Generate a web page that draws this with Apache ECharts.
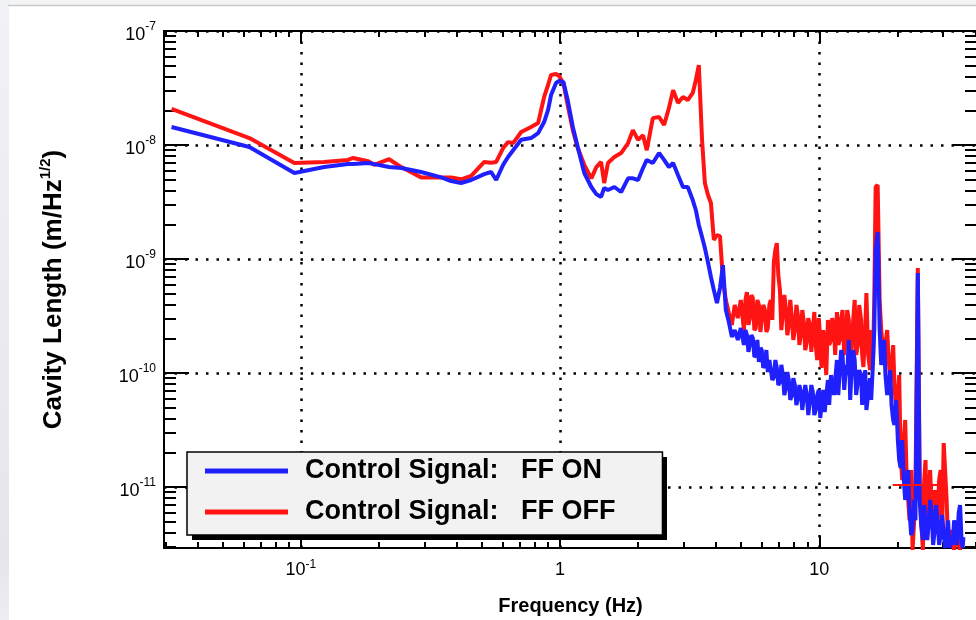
<!DOCTYPE html>
<html>
<head>
<meta charset="utf-8">
<style>
html, body { margin: 0; padding: 0; background: #fff; }
#main { width: 976px; height: 620px; }
</style>
<script src="https://cdn.jsdelivr.net/npm/echarts@6/dist/echarts.min.js"></script>
</head>
<body>
<div id="main"></div>
<script>
var FONT = '"Liberation Sans", Arial, Helvetica, sans-serif';

// frequency (Hz), shared by both traces
var freq = [
    0.0317, 0.0633, 0.0944, 0.123, 0.152, 0.159, 0.182, 0.192, 0.219, 0.244,
    0.291, 0.348, 0.380, 0.415, 0.454, 0.510, 0.542, 0.567, 0.603, 0.630,
    0.659, 0.708, 0.773, 0.823, 0.868, 0.899, 0.923, 0.965, 0.991,
    1.03, 1.07, 1.12, 1.17, 1.24, 1.32, 1.38, 1.44, 1.48, 1.53,
    1.62, 1.72, 1.83, 1.91, 2.00, 2.09, 2.16, 2.28, 2.41, 2.52,
    2.63, 2.73, 2.85, 2.98, 3.11, 3.25, 3.34, 3.43,
    3.53, 3.62, 3.72, 3.82, 3.92, 4.03, 4.14, 4.25, 4.36, 4.48,
    4.60, 4.72, 4.85, 4.98,
    5.12, 5.19, 5.26, 5.33, 5.40, 5.47, 5.54, 5.62, 5.69, 5.77,
    5.85, 5.93, 6.00, 6.08, 6.17, 6.25, 6.33, 6.42, 6.50, 6.59,
    6.68, 6.77, 6.86, 6.95, 7.05, 7.14, 7.24, 7.33, 7.43, 7.53,
    7.63, 7.73, 7.84, 7.94, 8.05, 8.16, 8.27, 8.38, 8.49, 8.60,
    8.72, 8.83, 8.95, 9.07, 9.19, 9.32, 9.44, 9.57, 9.69, 9.82,
    9.96, 10.09, 10.2, 10.36, 10.5, 10.64, 10.8, 10.92, 11.1, 11.22,
    11.4, 11.52, 11.7, 11.84, 12.0, 12.15, 12.3, 12.48, 12.7, 12.82,
    13.0, 13.16, 13.3, 13.52, 13.7, 13.88, 14.1, 14.26, 14.5, 14.64,
    14.8, 15.04, 15.2, 15.44, 15.7, 15.86, 16.1, 16.30,
    16.5, 16.8,
    17.1, 17.34, 17.6, 17.80, 18.0, 18.28, 18.5, 18.78, 19.0, 19.28,
    19.5, 19.80, 20.1, 20.34, 20.6, 20.89, 21.2, 21.45, 21.7, 22.03,
    22.3, 22.62, 22.9, 23.24,
    23.5, 24.0,
    24.4, 24.73, 25.1, 25.40, 25.7, 26.08, 26.4, 26.77, 27.1, 27.49,
    27.9, 28.24, 28.6, 29.00, 29.4, 29.78, 30.2, 30.58, 31.0, 31.40,
    31.8, 32.26, 32.7, 33.13, 33.6, 34.02, 34.5, 34.93, 35.4, 35.72,
    36.0
];

// Control Signal: FF ON (m/Hz^1/2)
var ampOn = [
    1.44e-8, 9.6e-9, 5.68e-9, 6.41e-9, 6.8e-9, 6.8e-9, 6.95e-9, 6.8e-9, 6.41e-9, 6.28e-9,
    5.8e-9, 5.2e-9, 4.83e-9, 4.64e-9, 4.93e-9, 5.56e-9, 5.8e-9, 4.93e-9, 6.7e-9, 7.84e-9,
    9.0e-9, 1.11e-8, 1.15e-8, 1.27e-8, 1.59e-8, 2.03e-8, 2.74e-8, 3.5e-8, 3.64e-8,
    3.57e-8, 2.48e-8, 1.44e-8, 9.6e-9, 5.68e-9, 4.28e-9, 3.71e-9, 3.5e-9, 4.2e-9, 4.03e-9,
    4.28e-9, 3.87e-9, 5.1e-9, 5.1e-9, 4.93e-9, 6.28e-9, 7.4e-9, 6.95e-9, 8.5e-9, 7.4e-9,
    6.41e-9, 6.95e-9, 5.45e-9, 4.28e-9, 4.28e-9, 3.29e-9, 2.69e-9, 1.99e-9,
    1.56e-9, 1.25e-9, 9.4e-10, 6.95e-10, 5.35e-10, 4.11e-10, 5.56e-10, 8.85e-10, 3.57e-10, 2.8e-10,
    2.07e-10, 2.38e-10, 1.95e-10, 2.48e-10,
    1.76e-10, 2.38e-10, 2.15e-10, 1.53e-10, 1.59e-10, 2.15e-10, 2.03e-10, 1.38e-10, 1.44e-10, 1.95e-10,
    1.25e-10, 1.66e-10, 1.59e-10, 1.11e-10, 1.18e-10, 1.59e-10, 1.02e-10, 1.30e-10, 1.30e-10, 8.67e-11,
    9.22e-11, 1.30e-10, 1.11e-10, 7.84e-11, 8.33e-11, 1.18e-10, 9.6e-11, 6.41e-11, 7.38e-11, 1.02e-10,
    8.67e-11, 5.8e-11, 6.41e-11, 9.0e-11, 7.84e-11, 5.24e-11, 6.03e-11, 7.84e-11, 6.81e-11, 4.74e-11,
    4.93e-11, 7.84e-11, 6.41e-11, 4.28e-11, 5.56e-11, 7.84e-11, 6.81e-11, 4.28e-11, 4.74e-11, 6.41e-11,
    7.1e-11, 4.03e-11, 5.24e-11, 7.1e-11, 4.55e-11, 6.41e-11, 8.67e-11, 5.24e-11, 9.6e-11, 7.84e-11,
    6.41e-11, 8.67e-11, 1.30e-10, 6.41e-11, 1.06e-10, 1.59e-10, 1.44e-10, 7.1e-11, 1.18e-10, 9.6e-11,
    1.95e-10, 5.8e-11, 9.6e-11, 1.59e-10, 1.30e-10, 6.41e-11, 6.67e-11, 1.06e-10, 9.6e-11, 5.24e-11,
    7.84e-11, 1.06e-10, 4.74e-11, 6.41e-11, 9.0e-11, 5.8e-11, 1.18e-10, 2.38e-10,
    1.2e-9, 1.72e-9,
    2.38e-10, 1.18e-10, 1.44e-10, 1.95e-10, 9.6e-11, 6.41e-11, 7.53e-11, 1.06e-10, 5.24e-11, 3.87e-11,
    3.5e-11, 5.8e-11, 2.58e-11, 1.72e-11, 1.47e-11, 2.58e-11, 1.15e-11, 7.7e-12, 7.7e-12, 1.41e-11,
    6.28e-12, 3.79e-12, 4.2e-12, 7.7e-12,
    5.1e-12, 7.53e-10,
    7.7e-12, 4.64e-12, 3.43e-12, 6.95e-12, 5.1e-12, 3.43e-12, 4.64e-12, 7.7e-12, 6.28e-12, 3.1e-12,
    4.2e-12, 6.95e-12, 5.1e-12, 3.1e-12, 3.79e-12, 5.68e-12, 3.95e-12, 2.92e-12, 3.43e-12, 5.1e-12,
    2.92e-12, 3.43e-12, 3.1e-12, 5.1e-12, 4.2e-12, 3.1e-12, 5.91e-12, 6.95e-12, 3.43e-12, 2.92e-12,
    3.64e-12
];

// Control Signal: FF OFF (m/Hz^1/2)
var ampOff = [
    2.07e-8, 1.15e-8, 6.95e-9, 7.1e-9, 7.4e-9, 7.7e-9, 7.2e-9, 6.7e-9, 7.5e-9, 6.4e-9,
    5.2e-9, 5.2e-9, 5.2e-9, 5.0e-9, 5.35e-9, 7.1e-9, 7.0e-9, 7.1e-9, 9.4e-9, 1.06e-8,
    1.04e-8, 1.30e-8, 1.44e-8, 1.56e-8, 2.64e-8, 3.36e-8, 4.11e-8, 4.2e-8, 4.03e-8,
    3.5e-8, 2.24e-8, 1.35e-8, 9.4e-9, 6.7e-9, 5.1e-9, 6.4e-9, 7.1e-9, 4.64e-9, 6.95e-9,
    7.84e-9, 8.5e-9, 1.04e-8, 1.35e-8, 1.11e-8, 1.22e-8, 9.0e-9, 1.72e-8, 1.76e-8, 1.50e-8,
    2.11e-8, 3.03e-8, 2.34e-8, 2.64e-8, 2.48e-8, 2.86e-8, 3.7e-8, 5.03e-8,
    1.11e-8, 4.64e-9, 3.64e-9, 3.1e-9, 1.47e-9, 1.62e-9, 1.59e-9, 6.54e-10, 4.37e-10, 3.36e-10,
    2.64e-10, 3.95e-10, 3.03e-10, 4.37e-10,
    2.38e-10, 4.37e-10, 5.13e-10, 2.64e-10, 3.03e-10, 4.83e-10, 4.55e-10, 2.38e-10, 2.48e-10, 4.37e-10,
    3.95e-10, 2.29e-10, 2.38e-10, 3.95e-10, 3.57e-10, 2.29e-10, 2.48e-10, 3.95e-10, 4.37e-10, 2.92e-10,
    9.4e-10, 1.2e-9, 1.38e-9, 7.23e-10, 5.35e-10, 2.38e-10, 3.43e-10, 4.83e-10, 3.71e-10, 2.15e-10,
    2.64e-10, 4.37e-10, 3.03e-10, 1.95e-10, 2.38e-10, 3.95e-10, 3.22e-10, 1.76e-10, 2.15e-10, 3.57e-10,
    2.8e-10, 1.59e-10, 1.87e-10, 3.03e-10, 2.64e-10, 1.53e-10, 2.38e-10, 3.43e-10, 1.76e-10, 1.30e-10,
    3.03e-10, 1.95e-10, 1.11e-10, 2.38e-10, 1.59e-10, 9.6e-11, 2.92e-10, 1.76e-10, 1.95e-10, 3.03e-10,
    2.38e-10, 1.44e-10, 3.43e-10, 1.76e-10, 1.95e-10, 3.03e-10, 3.57e-10, 1.44e-10, 2.15e-10, 3.57e-10,
    2.92e-10, 1.25e-10, 1.44e-10, 2.92e-10, 4.37e-10, 1.44e-10, 1.76e-10, 3.95e-10, 2.92e-10, 1.44e-10,
    1.13e-10, 2.38e-10, 5.03e-10, 1.44e-10, 1.06e-10, 2.38e-10, 1.18e-10, 4.37e-10,
    4.28e-9, 4.46e-9,
    4.37e-10, 2.38e-10, 1.69e-10, 1.18e-10, 1.76e-10, 2.38e-10, 1.38e-10, 8.67e-11, 1.06e-10, 1.76e-10,
    7.84e-11, 4.74e-11, 6.41e-11, 9.6e-11, 1.91e-11, 1.15e-11, 2.58e-11, 3.87e-11, 1.41e-11, 7.7e-12,
    5.1e-12, 1.41e-11, 2.8e-12, 5.1e-12,
    9.4e-12, 8.33e-10,
    1.15e-11, 5.1e-12, 2.8e-12, 1.15e-11, 1.72e-11, 3.43e-12, 7.7e-12, 1.41e-11, 6.95e-12, 4.2e-12,
    9.4e-12, 7.7e-12, 5.1e-12, 1.15e-11, 1.41e-11, 4.2e-12, 2.43e-11, 1.41e-11, 7.7e-12, 3.1e-12,
    3.43e-12, 4.2e-12, 3.1e-12, 2.8e-12, 3.43e-12, 3.79e-12, 3.1e-12, 2.8e-12, 3.43e-12, 3.57e-12,
    3.1e-12
];

// red cross drawn on the FF OFF trace near 24 Hz
var crossFreq = [19.2, 28.9, 24.0];
var crossAmp = [1.04e-11, 2.34e-11, 2.5e-12];

var xRange = [0.02965, 40.6];
var yRange = [2.917e-12, 1e-7];
var xTicks = [0.1, 1, 10];
var yTicks = [1e-11, 1e-10, 1e-9, 1e-8, 1e-7];

var NAME_ON = 'Control Signal:   FF ON';
var NAME_OFF = 'Control Signal:   FF OFF';

function lg(v) { return Math.log10(v); }

function minorTicks(range) {
    var out = [];
    for (var e = -13; e <= 2; e++) {
        for (var k = 2; k <= 9; k++) {
            var v = k * Math.pow(10, e);
            if (v > range[0] && v < range[1]) out.push(lg(v));
        }
    }
    return out;
}

var xMajor = xTicks.map(lg);
var yMajor = yTicks.map(lg);
var xMinor = minorTicks(xRange);
var yMinor = minorTicks(yRange);

function toXY(fs, as) {
    return fs.map(function (f, i) { return [lg(f), lg(as[i])]; });
}

function fmtX(v) {
    var p = Math.round(v);
    if (p === 0) return '{b|1}';
    if (p === 1) return '{b|10}';
    return '{b|10}{s|' + p + '}';
}
function fmtY(v) {
    return '{b|10}{s|' + Math.round(v) + '}';
}

var black = '#000';
var frame = { color: black, width: 2 };
var dotted = { color: black, width: 2.5, type: [2.5, 8] };

function baseAxis(grid, pos, range, extra) {
    var a = {
        type: 'value', gridIndex: grid, position: pos,
        min: lg(range[0]), max: lg(range[1]),
        axisLine: { show: false, onZero: false, lineStyle: frame },
        axisTick: { show: false },
        axisLabel: { show: false },
        splitLine: { show: false }
    };
    for (var k in extra) a[k] = extra[k];
    return a;
}

var chart = echarts.init(document.getElementById('main'));

chart.setOption({
    backgroundColor: '#fff',
    animation: false,
    textStyle: { fontFamily: FONT },
    graphic: [
        { type: 'rect', z: -10, shape: { x: 0, y: 0, width: 976, height: 5 }, style: { fill: '#f3f4f6' } },
        {
            type: 'rect', z: -10, shape: { x: 0, y: 0, width: 9, height: 620 },
            style: { fill: new echarts.graphic.LinearGradient(0, 0, 0, 1, [
                { offset: 0, color: '#f1f2f5' },
                { offset: 0.9, color: '#e4e6ea' },
                { offset: 1, color: '#eceef1' }
            ]) }
        },
        { type: 'line', z: -9, shape: { x1: 8, y1: 5.5, x2: 976, y2: 5.5 }, style: { stroke: '#c9c9c9', lineWidth: 1.5 } },
        // drop shadow behind the legend box
        { type: 'rect', z: 3, shape: { x: 192, y: 457, width: 475, height: 83 }, style: { fill: black } }
    ],
    grid: [
        { left: 164, top: 31, right: -1, bottom: 72, outerBoundsMode: 'none' },
        { left: 164, top: 31, right: -1, bottom: 72, outerBoundsMode: 'none' }
    ],
    legend: {
        orient: 'vertical',
        left: 187, top: 452, z: 4,
        data: [NAME_ON, NAME_OFF],
        icon: 'rect',
        itemWidth: 83, itemHeight: 5,
        itemGap: 11,
        padding: [4, 47, 8, 18],
        selectedMode: false,
        backgroundColor: '#f2f2f2',
        borderColor: black, borderWidth: 1.5, borderRadius: 0,
        textStyle: {
            fontFamily: FONT, fontSize: 27, fontWeight: 'bold', color: black,
            lineHeight: 30, padding: [0, 0, 0, 12]
        }
    },
    xAxis: [
        baseAxis(0, 'bottom', xRange, {
            axisLine: { show: true, onZero: false, lineStyle: frame },
            axisTick: { show: true, inside: true, length: 12, customValues: xMajor, lineStyle: frame },
            axisLabel: {
                show: true, customValues: xMajor, margin: 12, formatter: fmtX, color: black,
                rich: {
                    b: { fontFamily: FONT, fontSize: 18, lineHeight: 20, color: black },
                    s: { fontFamily: FONT, fontSize: 12, lineHeight: 13, padding: [0, 0, 10, 0], color: black }
                }
            },
            splitLine: { show: true, lineStyle: dotted },
            name: 'Frequency (Hz)', nameLocation: 'middle', nameGap: 48,
            nameTextStyle: { fontFamily: FONT, fontSize: 20, fontWeight: 'bold', color: black }
        }),
        baseAxis(0, 'top', xRange, {
            axisLine: { show: true, onZero: false, lineStyle: frame },
            axisTick: { show: true, inside: true, length: 12, customValues: xMajor, lineStyle: frame }
        }),
        baseAxis(1, 'bottom', xRange, {
            axisTick: { show: true, inside: true, length: 6, customValues: xMinor, lineStyle: frame }
        }),
        baseAxis(1, 'top', xRange, {
            axisTick: { show: true, inside: true, length: 6, customValues: xMinor, lineStyle: frame }
        })
    ],
    yAxis: [
        baseAxis(0, 'left', yRange, {
            axisLine: { show: true, onZero: false, lineStyle: frame },
            axisTick: { show: true, inside: true, length: 25, customValues: yMajor, lineStyle: frame },
            axisLabel: {
                show: true, customValues: yMajor, margin: 8, formatter: fmtY, color: black,
                padding: [8, 0, 0, 0],
                rich: {
                    b: { fontFamily: FONT, fontSize: 18, lineHeight: 20, color: black },
                    s: { fontFamily: FONT, fontSize: 12, lineHeight: 13, padding: [0, 0, 17, 0], color: black }
                }
            },
            splitLine: { show: true, lineStyle: dotted },
            name: 'Cavity Length (m/Hz{s|1/2})', nameLocation: 'middle', nameGap: 95, nameRotate: 90,
            nameTextStyle: {
                fontFamily: FONT, fontSize: 26, fontWeight: 'bold', color: black,
                rich: { s: { fontFamily: FONT, fontSize: 15, fontWeight: 'bold', padding: [0, 0, 16, 0], color: black } }
            }
        }),
        baseAxis(0, 'right', yRange, {
            axisLine: { show: true, onZero: false, lineStyle: frame },
            axisTick: { show: true, inside: true, length: 25, customValues: yMajor, lineStyle: frame }
        }),
        baseAxis(1, 'left', yRange, {
            axisTick: { show: true, inside: true, length: 12, customValues: yMinor, lineStyle: frame }
        }),
        baseAxis(1, 'right', yRange, {
            axisTick: { show: true, inside: true, length: 12, customValues: yMinor, lineStyle: frame }
        })
    ],
    series: [
        {
            name: NAME_OFF, type: 'line', xAxisIndex: 0, yAxisIndex: 0,
            data: toXY(freq, ampOff),
            showSymbol: false, symbol: 'none', silent: true, z: 2,
            itemStyle: { color: '#ff1414' },
            lineStyle: { color: '#ff1414', width: 4 },
            markLine: {
                silent: true, symbol: ['none', 'none'], label: { show: false },
                lineStyle: { color: '#ff1414', width: 2, type: 'solid' },
                data: [
                    [{ coord: [lg(crossFreq[0]), lg(crossAmp[0])] }, { coord: [lg(crossFreq[1]), lg(crossAmp[0])] }],
                    [{ coord: [lg(crossFreq[2]), lg(crossAmp[1])] }, { coord: [lg(crossFreq[2]), lg(crossAmp[2])] }]
                ]
            }
        },
        {
            name: NAME_ON, type: 'line', xAxisIndex: 0, yAxisIndex: 0,
            data: toXY(freq, ampOn),
            showSymbol: false, symbol: 'none', silent: true, z: 3,
            itemStyle: { color: '#2020ff' },
            lineStyle: { color: '#2020ff', width: 4 }
        }
    ]
});
</script>
</body>
</html>
